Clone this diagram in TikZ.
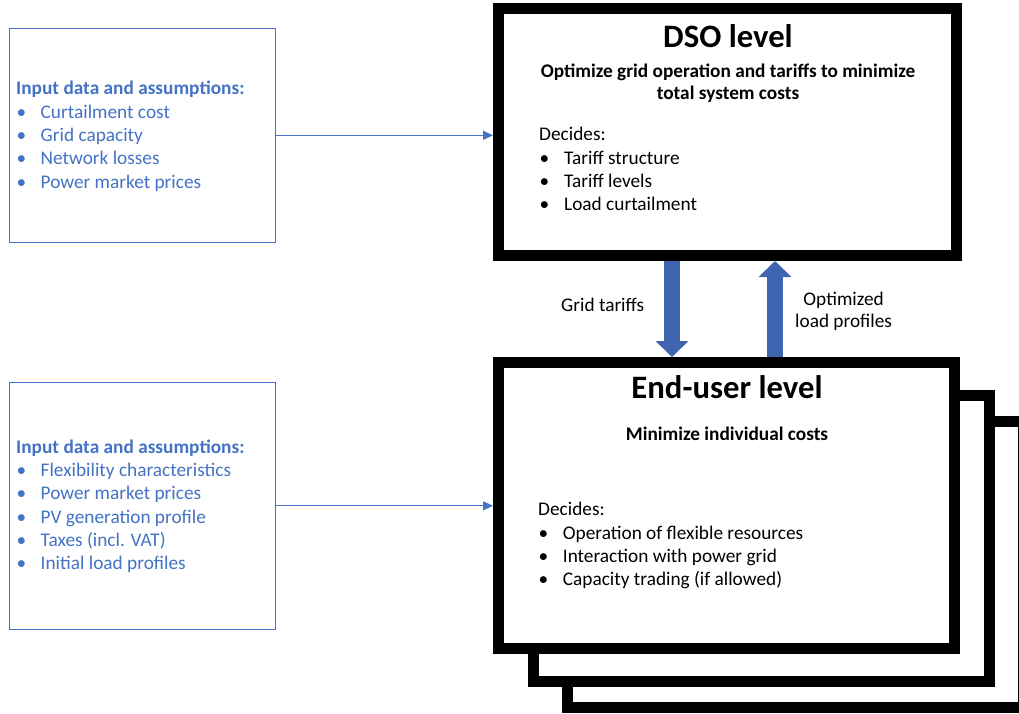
\documentclass[tikz,border=0pt]{standalone}
\usepackage{fontspec}
\setmainfont{Carlito}
\usetikzlibrary{arrows.meta,calc}
\definecolor{inblue}{RGB}{68,114,196}
\definecolor{flowblue}{RGB}{63,101,176}
\tikzset{
  levelbox/.style={draw=black, fill=white, line width=11pt, inner sep=0pt, minimum width=456pt, minimum height=286pt},
  inbox/.style={draw=inblue, line width=1.1pt, inner sep=0pt},
  body/.style={inner sep=0pt, anchor=base west, font=\fontsize{19.3}{23.3}\selectfont},
  ctr/.style={inner sep=0pt, anchor=base, font=\fontsize{19.3}{23.3}\selectfont},
  subt/.style={ctr, font=\fontsize{19.3}{23.3}\selectfont\bfseries},
  titl/.style={inner sep=0pt, anchor=base, font=\fontsize{32.7}{38}\selectfont\bfseries},
  feed/.style={draw=inblue, line width=1.1pt, -{Triangle[length=10pt,width=9pt]}},
  flow/.style={draw=flowblue, line width=16.5pt, -{Triangle[length=16pt,width=32pt]}}
}
\begin{document}
\begin{tikzpicture}[x=1pt,y=-1pt]
\useasboundingbox (0,0) rectangle (1019,714);
\clip (0,0) rectangle (1019,714);

% stacked end-user boxes
\node[levelbox] (eu3) at (795.5,564.5) {};
\node[levelbox] (eu2) at (761.5,538) {};
\node[levelbox] (eu) at (726.5,505.5) {};

% DSO box
\node[levelbox, minimum width=458pt, minimum height=247pt] (dso) at (727.5,132) {};

% input boxes
\node[inbox, minimum width=265.7pt, minimum height=214pt] (in1) at (142.2,135.3) {};
\node[inbox, minimum width=265.7pt, minimum height=247pt] (in2) at (142.2,505.8) {};

% input texts
\node[body, text=inblue, font=\fontsize{19.3}{23.3}\selectfont\bfseries] (i1h) at (16,95) {Input data and assumptions:};
\foreach \t [count=\k] in {Curtailment cost, Grid capacity, Network losses, Power market prices}{
  \node[body, text=inblue] (i1b\k) at (16.5,{95+23.3*\k}) {\textbullet};
  \node[body, text=inblue] (i1t\k) at (40.5,{95+23.3*\k}) {\t};
}
\node[body, text=inblue, font=\fontsize{19.3}{23.3}\selectfont\bfseries] (i2h) at (16,453.3) {Input data and assumptions:};
\foreach \t [count=\k] in {Flexibility characteristics, Power market prices, PV generation profile, Taxes (incl. VAT), Initial load profiles}{
  \node[body, text=inblue] (i2b\k) at (16.5,{453.3+23.3*\k}) {\textbullet};
  \node[body, text=inblue] (i2t\k) at (40.5,{453.3+23.3*\k}) {\t};
}

% DSO texts
\node[titl] (dsot) at (728,47.7) {DSO level};
\node[subt] (dsos1) at (728,77.3) {Optimize grid operation and tariffs to minimize};
\node[subt] (dsos2) at (728,100) {total system costs};
\node[body] (dsod) at (539,141) {Decides:};
\foreach \t [count=\k] in {Tariff structure, Tariff levels, Load curtailment}{
  \node[body] (dsob\k) at (539.5,{141+23.3*\k}) {\textbullet};
  \node[body] (dsoi\k) at (564,{141+23.3*\k}) {\t};
}

% End-user texts
\node[titl] (eut) at (727,398.3) {End-user level};
\node[subt] (eus) at (727,440) {Minimize individual costs};
\node[body] (eud) at (538,515) {Decides:};
\foreach \t [count=\k] in {Operation of flexible resources, Interaction with power grid, Capacity trading (if allowed)}{
  \node[body] (eub\k) at (538.5,{515.7+23.4*\k}) {\textbullet};
  \node[body] (eui\k) at (562.7,{515.7+23.4*\k}) {\t};
}

% feeds
\draw[feed] (in1.east) -- (in1.east -| dso.west);
\draw[feed] (in2.east) -- (in2.east -| eu.west);

% block arrows
\draw[flow] ([xshift=-55.5pt]dso.south) -- ([xshift=-55.5pt]dso.south |- eu.north);
\draw[flow] ([xshift=47.5pt]dso.south |- eu.north) -- ([xshift=47.5pt]dso.south);

% arrow labels
\node[ctr] (lgt) at (602.7,311.7) {Grid tariffs};
\node[ctr] (lop1) at (843.6,305) {Optimized};
\node[ctr] (lop2) at (843.6,327.3) {load profiles};
\end{tikzpicture}
\end{document}
